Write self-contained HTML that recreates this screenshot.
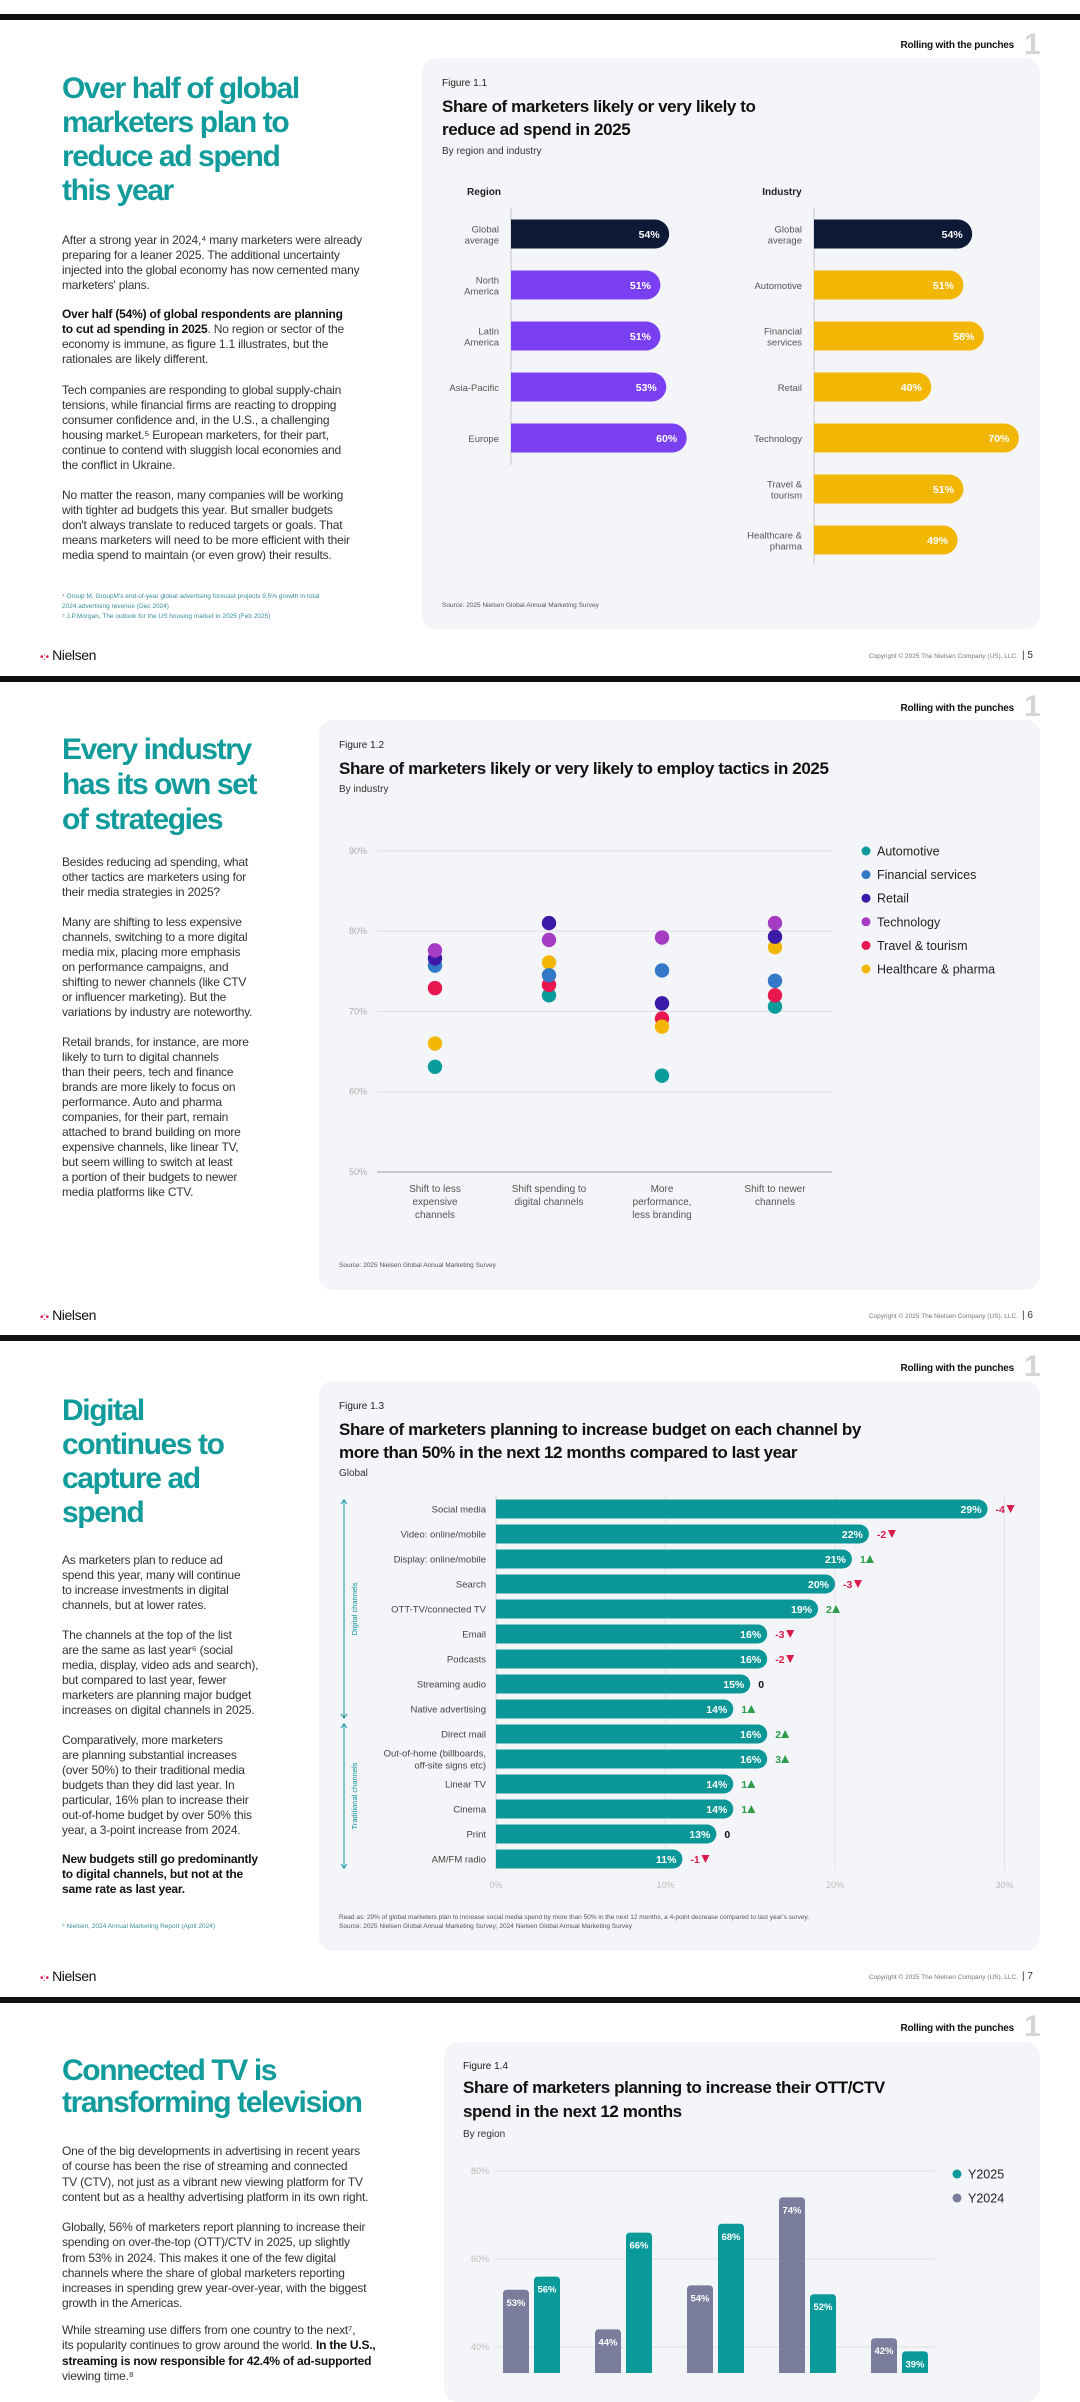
<!DOCTYPE html>
<html><head><meta charset="utf-8"><style>
*{margin:0;padding:0;box-sizing:border-box}
body{width:1080px;height:2373px;position:relative;overflow:hidden;background:#fff;font-family:"Liberation Sans",sans-serif;color:#222}
.t{position:absolute;white-space:nowrap}
.sep{position:absolute;left:0;width:1080px;height:6px;background:#111}
.card{position:absolute;background:#f4f5f8;border-radius:14px}
.h{position:absolute;color:#119b9b;font-weight:bold;font-size:30px;letter-spacing:-1.4px;line-height:34px;white-space:nowrap}
.body{position:absolute;font-size:12px;letter-spacing:-0.2px;line-height:15px;color:#333;white-space:nowrap}
.body b{color:#111}
.roll{position:absolute;right:66px;font-size:10px;font-weight:bold;color:#111;letter-spacing:-0.2px}
.one{position:absolute;left:1024px;font-size:30px;color:#d5d5d8;font-weight:bold}
.fig{position:absolute;font-size:10px;color:#222}
.ftitle{position:absolute;font-size:17px;font-weight:bold;letter-spacing:-0.4px;line-height:23px;color:#111;white-space:nowrap}
.sub{position:absolute;font-size:10px;color:#333}
.src{position:absolute;font-size:6.5px;color:#555;white-space:nowrap}
.logo{position:absolute;left:40px;font-size:14px;color:#111;letter-spacing:-0.4px}
.logo span{color:#e8174f;font-size:10px}
.copy{position:absolute;right:62px;font-size:6.5px;color:#777}
.pg{position:absolute;left:1022px;font-size:10px;color:#333}
#svg{position:absolute;left:0;top:0}
</style></head><body>
<div class="sep" style="top:14px"></div>
<div class="sep" style="top:676px"></div>
<div class="sep" style="top:1335px"></div>
<div class="sep" style="top:1997px"></div>

<!-- PAGE 5 -->
<div class="roll" style="top:40px">Rolling with the punches</div>
<div class="one" style="top:28px">1</div>
<div class="card" style="left:422px;top:58px;width:618px;height:571px"></div>
<div class="h" style="left:62px;top:72px">Over half of global<br>marketers plan to<br>reduce ad spend<br>this year</div>
<div class="body" style="left:62px;top:233px">After a strong year in 2024,⁴ many marketers were already<br>preparing for a leaner 2025. The additional uncertainty<br>injected into the global economy has now cemented many<br>marketers' plans.</div>
<div class="body" style="left:62px;top:307px"><b>Over half (54%) of global respondents are planning<br>to cut ad spending in 2025</b>. No region or sector of the<br>economy is immune, as figure 1.1 illustrates, but the<br>rationales are likely different.</div>
<div class="body" style="left:62px;top:383px">Tech companies are responding to global supply-chain<br>tensions, while financial firms are reacting to dropping<br>consumer confidence and, in the U.S., a challenging<br>housing market.⁵ European marketers, for their part,<br>continue to contend with sluggish local economies and<br>the conflict in Ukraine.</div>
<div class="body" style="left:62px;top:488px">No matter the reason, many companies will be working<br>with tighter ad budgets this year. But smaller budgets<br>don't always translate to reduced targets or goals. That<br>means marketers will need to be more efficient with their<br>media spend to maintain (or even grow) their results.</div>
<div class="src" style="left:62px;top:592px;line-height:10px;color:#3a8f9a">⁴ Group M, GroupM's end-of-year global advertising forecast projects 9.5% growth in total<br>2024 advertising revenue (Dec 2024)<br>⁵ J.P.Morgan, The outlook for the US housing market in 2025 (Feb 2025)</div>
<div class="fig" style="left:442px;top:78px">Figure 1.1</div>
<div class="ftitle" style="left:442px;top:95px">Share of marketers likely or very likely to<br>reduce ad spend in 2025</div>
<div class="sub" style="left:442px;top:146px">By region and industry</div>
<div class="src" style="left:442px;top:602px">Source: 2025 Nielsen Global Annual Marketing Survey</div>
<div class="logo" style="top:647px"><span>•:•</span> Nielsen</div>
<div class="copy" style="top:653px">Copyright © 2025 The Nielsen Company (US), LLC.</div>
<div class="pg" style="top:650px">| 5</div>

<!-- PAGE 6 -->
<div class="roll" style="top:703px">Rolling with the punches</div>
<div class="one" style="top:690px">1</div>
<div class="card" style="left:319px;top:720px;width:721px;height:570px"></div>
<div class="h" style="left:62px;top:732px;line-height:35px">Every industry<br>has its own set<br>of strategies</div>
<div class="body" style="left:62px;top:855px">Besides reducing ad spending, what<br>other tactics are marketers using for<br>their media strategies in 2025?</div>
<div class="body" style="left:62px;top:915px">Many are shifting to less expensive<br>channels, switching to a more digital<br>media mix, placing more emphasis<br>on performance campaigns, and<br>shifting to newer channels (like CTV<br>or influencer marketing). But the<br>variations by industry are noteworthy.</div>
<div class="body" style="left:62px;top:1035px">Retail brands, for instance, are more<br>likely to turn to digital channels<br>than their peers, tech and finance<br>brands are more likely to focus on<br>performance. Auto and pharma<br>companies, for their part, remain<br>attached to brand building on more<br>expensive channels, like linear TV,<br>but seem willing to switch at least<br>a portion of their budgets to newer<br>media platforms like CTV.</div>
<div class="fig" style="left:339px;top:740px">Figure 1.2</div>
<div class="ftitle" style="left:339px;top:757px">Share of marketers likely or very likely to employ tactics in 2025</div>
<div class="sub" style="left:339px;top:784px">By industry</div>
<div class="src" style="left:339px;top:1262px">Source: 2025 Nielsen Global Annual Marketing Survey</div>
<div class="logo" style="top:1307px"><span>•:•</span> Nielsen</div>
<div class="copy" style="top:1313px">Copyright © 2025 The Nielsen Company (US), LLC.</div>
<div class="pg" style="top:1310px">| 6</div>

<!-- PAGE 7 -->
<div class="roll" style="top:1363px">Rolling with the punches</div>
<div class="one" style="top:1350px">1</div>
<div class="card" style="left:319px;top:1381px;width:721px;height:570px"></div>
<div class="h" style="left:62px;top:1394px">Digital<br>continues to<br>capture ad<br>spend</div>
<div class="body" style="left:62px;top:1553px">As marketers plan to reduce ad<br>spend this year, many will continue<br>to increase investments in digital<br>channels, but at lower rates.</div>
<div class="body" style="left:62px;top:1628px">The channels at the top of the list<br>are the same as last year⁶ (social<br>media, display, video ads and search),<br>but compared to last year, fewer<br>marketers are planning major budget<br>increases on digital channels in 2025.</div>
<div class="body" style="left:62px;top:1733px">Comparatively, more marketers<br>are planning substantial increases<br>(over 50%) to their traditional media<br>budgets than they did last year. In<br>particular, 16% plan to increase their<br>out-of-home budget by over 50% this<br>year, a 3-point increase from 2024.</div>
<div class="body" style="left:62px;top:1852px;font-weight:bold;color:#111">New budgets still go predominantly<br>to digital channels, but not at the<br>same rate as last year.</div>
<div class="src" style="left:62px;top:1923px;color:#3a8f9a">⁶ Nielsen, 2024 Annual Marketing Report (April 2024)</div>
<div class="fig" style="left:339px;top:1401px">Figure 1.3</div>
<div class="ftitle" style="left:339px;top:1418px">Share of marketers planning to increase budget on each channel by<br>more than 50% in the next 12 months compared to last year</div>
<div class="sub" style="left:339px;top:1468px">Global</div>
<div class="src" style="left:339px;top:1913px;line-height:9px">Read as: 29% of global marketers plan to increase social media spend by more than 50% in the next 12 months, a 4-point decrease compared to last year's survey.<br>Source: 2025 Nielsen Global Annual Marketing Survey; 2024 Nielsen Global Annual Marketing Survey</div>
<div class="logo" style="top:1968px"><span>•:•</span> Nielsen</div>
<div class="copy" style="top:1974px">Copyright © 2025 The Nielsen Company (US), LLC.</div>
<div class="pg" style="top:1971px">| 7</div>

<!-- PAGE 8 -->
<div class="roll" style="top:2023px">Rolling with the punches</div>
<div class="one" style="top:2010px">1</div>
<div class="card" style="left:444px;top:2042px;width:596px;height:360px"></div>
<div class="h" style="left:62px;top:2055px;line-height:32px">Connected TV is<br>transforming television</div>
<div class="body" style="left:62px;top:2144px;line-height:15.3px">One of the big developments in advertising in recent years<br>of course has been the rise of streaming and connected<br>TV (CTV), not just as a vibrant new viewing platform for TV<br>content but as a healthy advertising platform in its own right.</div>
<div class="body" style="left:62px;top:2220px;line-height:15.3px">Globally, 56% of marketers report planning to increase their<br>spending on over-the-top (OTT)/CTV in 2025, up slightly<br>from 53% in 2024. This makes it one of the few digital<br>channels where the share of global marketers reporting<br>increases in spending grew year-over-year, with the biggest<br>growth in the Americas.</div>
<div class="body" style="left:62px;top:2323px;line-height:15.3px">While streaming use differs from one country to the next⁷,<br>its popularity continues to grow around the world. <b>In the U.S.,<br>streaming is now responsible for 42.4% of ad-supported</b><br>viewing time.⁸</div>
<div class="fig" style="left:463px;top:2061px">Figure 1.4</div>
<div class="ftitle" style="left:463px;top:2076px;line-height:24px">Share of marketers planning to increase their OTT/CTV<br>spend in the next 12 months</div>
<div class="sub" style="left:463px;top:2129px">By region</div>

<svg id="svg" width="1080" height="2373" xmlns="http://www.w3.org/2000/svg"></svg>

<script>
// ---- Figure 1.1 data ----
const regionCats=[["Global","average"],["North","America"],["Latin","America"],["Asia-Pacific"],["Europe"]];
const regionVals=[54,51,51,53,60];
const industryCats=[["Global","average"],["Automotive"],["Financial","services"],["Retail"],["Technology"],["Travel &","tourism"],["Healthcare &","pharma"]];
const industryVals=[54,51,58,40,70,51,49];
// ---- Figure 1.2 data ----
const tacticCats=[["Shift to less","expensive","channels"],["Shift spending to","digital channels"],["More","performance,","less branding"],["Shift to newer","channels"]];
const industries=["Automotive","Financial services","Retail","Technology","Travel & tourism","Healthcare & pharma"];
const autoVals=[63.1,72.0,62.0,70.6];
const finVals=[75.7,74.5,75.1,73.8];
const retailVals=[76.6,81.0,71.0,79.3];
const techVals=[77.6,78.9,79.2,81.0];
const travelVals=[72.9,73.3,69.1,72.0];
const healthVals=[66.0,76.1,68.1,78.0];
const tacticTicks=[50,60,70,80,90];
// ---- Figure 1.3 data ----
const channels=[["Social media"],["Video: online/mobile"],["Display: online/mobile"],["Search"],["OTT-TV/connected TV"],["Email"],["Podcasts"],["Streaming audio"],["Native advertising"],["Direct mail"],["Out-of-home (billboards,","off-site signs etc)"],["Linear TV"],["Cinema"],["Print"],["AM/FM radio"]];
const channelVals=[29,22,21,20,19,16,16,15,14,16,16,14,14,13,11];
const channelChange=[-4,-2,1,-3,2,-3,-2,0,1,2,3,1,1,0,-1];
const channelTicks=[0,10,20,30];
// ---- Figure 1.4 data ----
const ctvRegions=["Global","North America","Latin America","Europe","Asia-Pacific"];
const ctv2024=[53,44,54,74,42];
const ctv2025=[56,66,68,52,39];
const ctvTicks=[40,60,80];

const NS="http://www.w3.org/2000/svg";
const svg=document.getElementById('svg');
function mk(tag,attrs,parent){const e=document.createElementNS(NS,tag);for(const k in attrs)e.setAttribute(k,attrs[k]);(parent||svg).appendChild(e);return e;}
function txt(x,y,s,attrs){const e=mk('text',Object.assign({x:x,y:y,'font-family':'Liberation Sans, sans-serif'},attrs));e.textContent=s;return e;}

// ===== Figure 1.1 =====
const s1=2.92, rowY0=234, rowStep=51, barH=29;
function hbarPanel(x0,cats,vals,color0,color,header,hx,axisEnd){
  let t=txt(hx,195,header,{'font-size':10,'font-weight':'bold','text-anchor':'middle',fill:'#222'});
  
  
  let ax=mk('line',{x1:x0,x2:x0,y1:208,y2:axisEnd,stroke:'#c8c8cc','stroke-width':1});
  
  
  vals.forEach((v,i)=>{
    const cy=rowY0+i*rowStep, w=v*s1;
    const r=mk('path',{d:`M${x0},${cy-barH/2}h${w-14}a14.5,14.5 0 0 1 0,${barH}h${-(w-14)}z`,fill:i===0?color0:color});
    
    
    const lb=txt(x0+w-9,cy+4,v+'%',{'font-size':10.5,'font-weight':'bold','text-anchor':'end',fill:'#fff'});
    
    
    const lines=cats[i];
    lines.forEach((s,j)=>{
      const c=txt(x0-12,cy+4+(j-(lines.length-1)/2)*11,s,{'font-size':9.5,'text-anchor':'end',fill:'#555'});
      
      
    });
  });
}
hbarPanel(511,regionCats,regionVals,'#0d1a35','#7b3ff2','Region',484,465);
hbarPanel(814,industryCats,industryVals,'#0d1a35','#f2b705','Industry',782,565);

// ===== Figure 1.2 =====
const y2=v=>1172-(v-50)*8.03;
const x2=[435,549,662,775];
tacticTicks.forEach(t=>{
  const g=mk('line',{x1:377,x2:832,y1:y2(t),y2:y2(t),stroke:t===50?'#bbb':'#dedee3','stroke-width':t===50?1.5:1});
  
  
  const l=txt(367,y2(t)+3,t+'%',{'font-size':9,'text-anchor':'end',fill:'#aaa'});
  
  
});
tacticCats.forEach((c,i)=>{c.forEach((s,j)=>{
  const l=txt(x2[i],1192+j*13,s,{'font-size':10,'text-anchor':'middle',fill:'#555'});
  
  
});});
const series2=[[autoVals,'#0a9b9b'],[travelVals,'#e8174f'],[healthVals,'#f2b705'],[finVals,'#3478c8'],[retailVals,'#3a1aa6'],[techVals,'#a63bc4']];
series2.forEach(([vals,col],si)=>{vals.forEach((v,i)=>{
  const d=mk('circle',{cx:x2[i],cy:y2(v),r:7.2,fill:col});
  
  
});});
const legCols=['#0a9b9b','#3478c8','#3a1aa6','#a63bc4','#e8174f','#f2b705'];
industries.forEach((n,i)=>{
  const y=851+i*23.6;
  const c=mk('circle',{cx:866,cy:y,r:4.5,fill:legCols[i]});
  
  
  const t=txt(877,y+4.5,n,{'font-size':12.5,fill:'#222'});
  
  
});

// ===== Figure 1.3 =====
const x3=v=>496+v*16.95;
const rowY3=i=>1509+i*25;
channelTicks.forEach(t=>{
  const g=mk('line',{x1:x3(t),x2:x3(t),y1:1496,y2:1870,stroke:t===0?'#ccc':'#e2e2e6','stroke-width':1});
  
  
  const l=txt(x3(t),1888,t+'%',{'font-size':9,'text-anchor':'middle',fill:'#bbb'});
  
  
});
channelVals.forEach((v,i)=>{
  const cy=rowY3(i), w=x3(v)-x3(0), h=19;
  const b=mk('path',{d:`M${x3(0)},${cy-h/2}h${w-9.5}a9.5,9.5 0 0 1 0,${h}h${-(w-9.5)}z`,fill:'#0b9797'});
  
  
  const lb=txt(x3(v)-6,cy+4,v+'%',{'font-size':10.5,'font-weight':'bold','text-anchor':'end',fill:'#fff'});
  
  
  channels[i].forEach((s,j)=>{
    const c=txt(486,cy+3.5+(j-(channels[i].length-1)/2)*12,s,{'font-size':9.5,'text-anchor':'end',fill:'#444'});
    
    
  });
  const ch=channelChange[i];
  const col=ch<0?'#d81b4a':(ch>0?'#2e9e4a':'#111');
  const cx=x3(v)+8;
  const ct=txt(cx,cy+4,String(ch),{'font-size':10.5,'font-weight':'bold',fill:col});
  
  
  if(ch!==0){
    const tx=cx+(ch<0?15:10);
    const tri=mk('path',{d:ch<0?`M${tx-4},${cy-4}h8l-4,8z`:`M${tx-4},${cy+4}h8l-4,-8z`,fill:col});
    
    
  }
});
[[1500,1718,'Digital channels'],[1724,1868,'Traditional channels']].forEach(([a,b,s])=>{
  const l=mk('path',{d:`M344,${a}V${b}M341,${a+4}l3,-4l3,4M341,${b-4}l3,4l3,-4`,stroke:'#0b9797',fill:'none','stroke-width':1});
  
  
  const m=(a+b)/2;
  const t=txt(357,m,s,{'font-size':7.5,'text-anchor':'middle',fill:'#0b9797',transform:`rotate(-90 357 ${m})`});
  
  
});

// ===== Figure 1.4 =====
const y4=v=>2171+(80-v)*4.4;
const gx=i=>531.5+i*92;
ctvTicks.forEach(t=>{
  const g=mk('line',{x1:494,x2:935,y1:y4(t),y2:y4(t),stroke:'#dedee3','stroke-width':1});
  
  
  const l=txt(489,y4(t)+3,t+'%',{'font-size':9,'text-anchor':'end',fill:'#bbb'});
  
  
});
function vbar(x,v,col,name){
  const top=y4(v), w=26, r=4;
  const b=mk('path',{d:`M${x},2400V${top+r}q0,${-r} ${r},${-r}h${w-2*r}q${r},0 ${r},${r}V2400z`,fill:col});
  
  
  const l=txt(x+w/2,top+16,v+'%',{'font-size':9.5,'font-weight':'bold','text-anchor':'middle',fill:'#fff'});
  
  
}
ctvRegions.forEach((r,i)=>{
  vbar(gx(i)-28.5,ctv2024[i],'#7a7d9c','bar-2024-'+r.toLowerCase().replace(/[^a-z]+/g,'-'));
  vbar(gx(i)+2.5,ctv2025[i],'#0b9a9a','bar-2025-'+r.toLowerCase().replace(/[^a-z]+/g,'-'));
});
[['Y2025','#0b9a9a',2174],['Y2024','#7a7d9c',2198]].forEach(([n,c,y])=>{
  const m=mk('circle',{cx:957,cy:y,r:4.5,fill:c});
  
  
  const t=txt(968,y+4.5,n,{'font-size':12.5,fill:'#222'});
  
  
});
</script>
</body></html>
